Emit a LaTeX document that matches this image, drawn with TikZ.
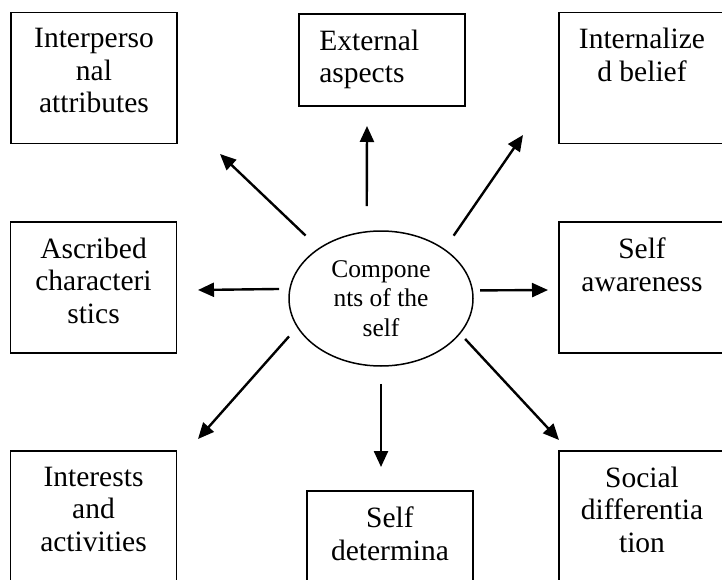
\documentclass[tikz,border=0pt]{standalone}
\usepackage{fontspec}
\setmainfont{Liberation Serif}
\usetikzlibrary{shapes.geometric,arrows.meta}

\newcommand\boxfont{\fontsize{29.5}{32.5}\selectfont}
\newcommand\midfont{\fontsize{25.5}{29.5}\selectfont}

\begin{document}
\begin{tikzpicture}
  [x=1pt,y=-1pt,
   box/.style={draw,line width=1.8pt,minimum width=166pt,minimum height=131pt,inner sep=0pt},
   txt/.style={anchor=north,align=center,inner sep=0pt,font=\boxfont},
   arr/.style={line width=2.4pt,-{Triangle[length=16pt,width=14pt]}}]

  \useasboundingbox (0,0) rectangle (722,580);
  \clip (0,0) rectangle (722,580);

  % centre
  \node[draw,ellipse,line width=1.5pt,minimum width=184pt,minimum height=135pt,
        inner sep=0pt,align=center,font=\midfont] (self) at (381,298.5)
        {Compone\\nts of the\\self};

  % boxes
  \node[box] (interp) at (94,78) {};
  \node[box,minimum height=92pt] (ext) at (382,60) {};
  \node[box] (intern) at (642,78) {};
  \node[box] (ascr) at (93.5,287.5) {};
  \node[box] (aware) at (642,287.5) {};
  \node[box] (inter) at (93.5,516.5) {};
  \node[box] (det) at (390,556.5) {};
  \node[box] (soc) at (642,516.5) {};

  \node[txt] (interpT) at ([yshift=-16.5pt]interp.north) {Interperso\\nal\\attributes};
  \node[txt,anchor=north west,align=left] (extT) at ([xshift=21pt,yshift=-16.5pt]ext.north west) {External\\aspects};
  \node[txt] (internT) at ([yshift=-16.5pt]intern.north) {Internalize\\d belief};
  \node[txt] (ascrT) at ([yshift=-16.5pt]ascr.north) {Ascribed\\characteri\\stics};
  \node[txt] (awareT) at ([yshift=-16.5pt]aware.north) {Self\\awareness};
  \node[txt] (interT) at ([yshift=-16.5pt]inter.north) {Interests\\and\\activities};
  \node[txt] (detT) at ([yshift=-16.5pt]det.north) {Self\\determina};
  \node[txt] (socT) at ([yshift=-16.5pt]soc.north) {Social\\differentia\\tion};

  % arrow tips
  \coordinate (upTip) at (367,126);
  \coordinate (ulTip) at (220,154);
  \coordinate (urTip) at (523,135);
  \coordinate (lTip) at (198,290);
  \coordinate (rTip) at (548,290);
  \coordinate (llTip) at (198,439);
  \coordinate (dnTip) at (381,467);
  \coordinate (lrTip) at (559,440);

  \draw[arr,shorten <=25pt] (self.102) -- (upTip);
  \draw[arr,shorten <=18pt] (self.141) -- (ulTip);
  \draw[arr,shorten <=16pt] (self.38) -- (urTip);
  \draw[arr,shorten <=10pt] (self.174.7) -- (lTip);
  \draw[arr,shorten <=7pt] (self.5.3) -- (rTip);
  \draw[arr,shorten <=12pt] (self.199.5) -- (llTip);
  \draw[arr,shorten <=17pt] (self.south) -- (dnTip);
  \draw[arr,shorten <=7pt] (self.336.6) -- (lrTip);

\end{tikzpicture}
\end{document}
